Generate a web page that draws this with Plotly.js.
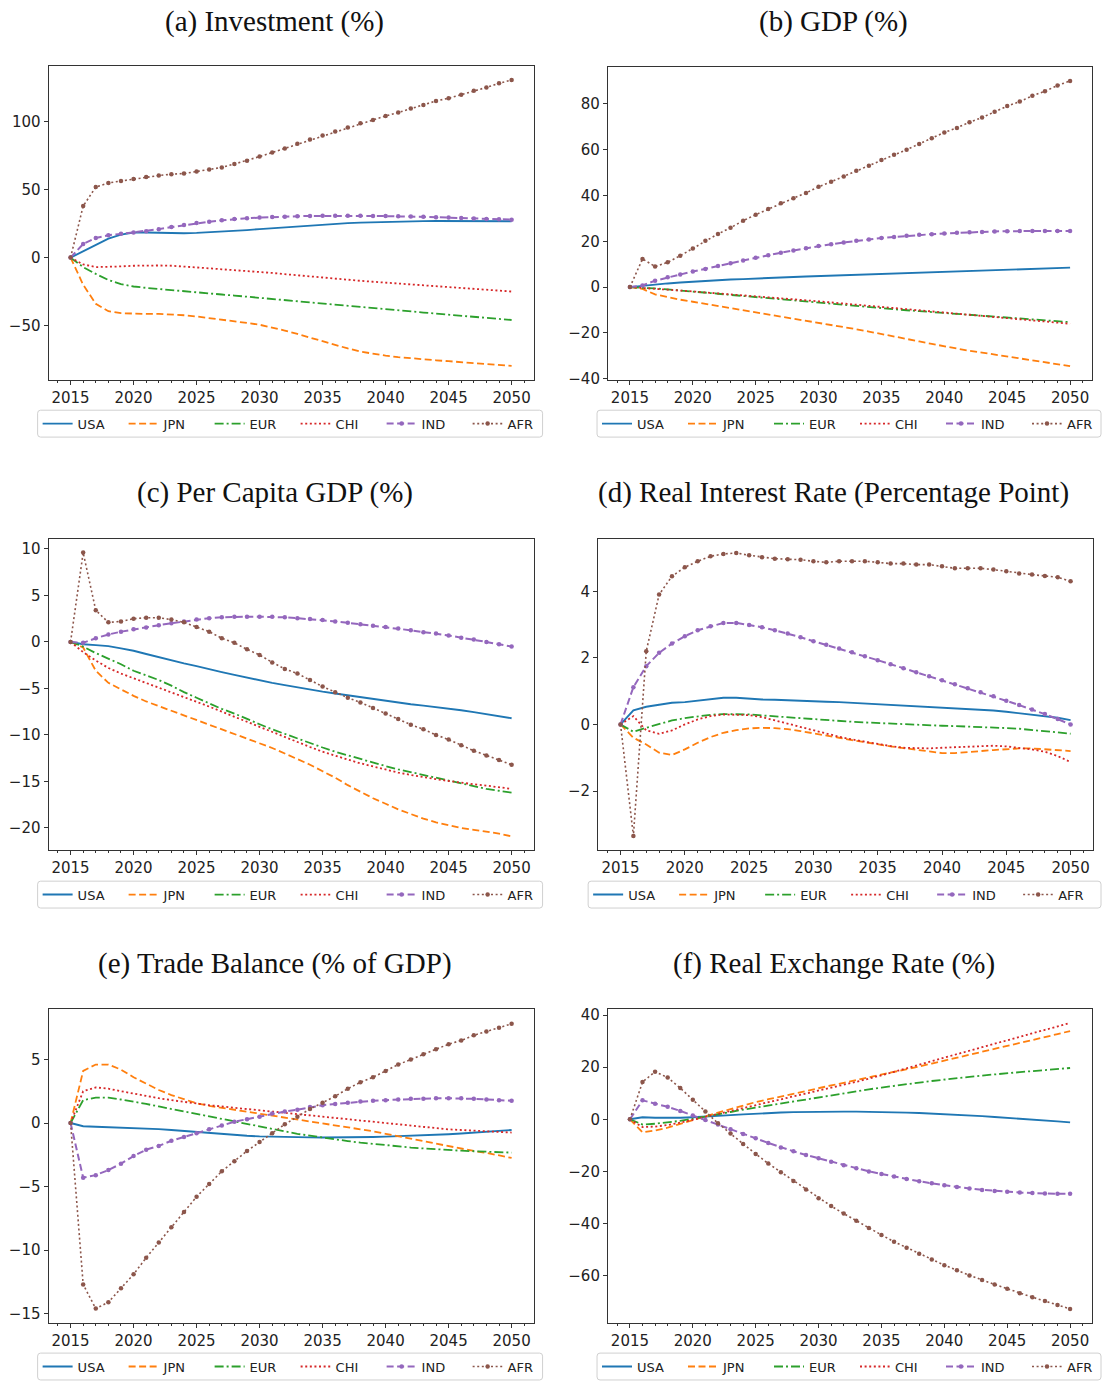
<!DOCTYPE html>
<html><head><meta charset="utf-8">
<script src="https://cdn.plot.ly/plotly-3.0.1.min.js"></script>
<style>html,body{margin:0;padding:0;background:#fff}#chart{width:1113px;height:1382px}</style>
</head><body><div id="chart"></div>
<script>
const years = [2015,2016,2017,2018,2019,2020,2021,2022,2023,2024,2025,2026,2027,2028,2029,2030,2031,2032,2033,2034,2035,2036,2037,2038,2039,2040,2041,2042,2043,2044,2045,2046,2047,2048,2049,2050];
const countries = ['USA','JPN','EUR','CHI','IND','AFR'];

// (a) Investment (%)
const invUSA = [0,4.5,9,14,17,18.5,18.5,18.2,18,18,18.2,18.6,19,19.6,20.3,21,21.7,22.4,23.1,23.8,24.4,24.9,25.4,25.8,26.1,26.4,26.6,26.8,26.9,27,27,27,27,27,26.9,26.8];
const invJPN = [0,-20,-34,-39.5,-41,-41.4,-41.5,-41.5,-41.8,-42.5,-43.4,-44.5,-45.7,-47,-48.2,-49.5,-51.5,-53.8,-56.3,-59,-61.8,-64.5,-67,-69.3,-71,-72.3,-73.4,-74.3,-75,-75.7,-76.4,-77.1,-77.8,-78.5,-79.2,-79.8];
const invEUR = [0,-7,-12,-16.5,-19.5,-21.3,-22.3,-23.2,-24,-24.8,-25.6,-26.4,-27.2,-28,-28.8,-29.7,-30.5,-31.4,-32.3,-33.2,-34,-34.9,-35.7,-36.5,-37.3,-38.1,-38.9,-39.7,-40.5,-41.3,-42.1,-42.9,-43.7,-44.5,-45.3,-46];
const invCHI = [0,-5,-7,-7,-6.5,-6,-5.8,-5.8,-6,-6.5,-7.2,-7.9,-8.6,-9.2,-9.8,-10.5,-11.3,-12.2,-13.1,-14,-14.8,-15.6,-16.4,-17.1,-17.8,-18.5,-19.1,-19.7,-20.3,-20.9,-21.5,-22.2,-22.9,-23.6,-24.3,-25];
const invIND = [0,10,14.5,16.5,17.5,18.5,19.5,21,22.5,24,25.5,26.5,27.5,28.5,29,29.5,30,30.2,30.5,30.7,30.8,30.8,30.8,30.8,30.7,30.6,30.5,30.3,30.1,29.8,29.5,29.2,28.8,28.5,28.2,28];
const invAFR = [0,38,52,55,56.5,58,59.5,60.5,61.5,62,63.5,65,66.5,69,71.5,74.5,77.5,80.5,84,87,90,93,96,99,101.5,104.5,107,110,112.5,115.5,117.5,120,123,125.5,128.5,131];

// (b) GDP (%)
const gdpUSA = [0,0.6,1.1,1.6,2.0,2.4,2.7,3.0,3.3,3.5,3.8,4.0,4.2,4.4,4.6,4.8,5.0,5.2,5.4,5.6,5.8,6.0,6.2,6.4,6.6,6.8,7.0,7.2,7.4,7.6,7.8,8.0,8.1,8.3,8.4,8.5];
const gdpJPN = [0,-0.8,-3.2,-4.5,-5.5,-6.4,-7.3,-8.2,-9.1,-10,-11,-11.9,-12.8,-13.7,-14.6,-15.6,-16.5,-17.5,-18.4,-19.4,-20.4,-21.5,-22.6,-23.7,-24.8,-25.9,-26.9,-27.8,-28.6,-29.4,-30.2,-31,-31.8,-32.6,-33.5,-34.5];
const gdpEUR = [0,-0.2,-0.6,-1,-1.4,-1.9,-2.4,-2.9,-3.4,-3.9,-4.4,-4.9,-5.4,-5.9,-6.4,-6.9,-7.4,-7.9,-8.3,-8.8,-9.2,-9.7,-10.1,-10.5,-10.9,-11.3,-11.7,-12.1,-12.5,-12.9,-13.3,-13.7,-14.1,-14.5,-14.9,-15.3];
const gdpCHI = [0,-0.3,-0.7,-1.1,-1.5,-1.9,-2.3,-2.7,-3.1,-3.5,-4,-4.4,-4.9,-5.3,-5.8,-6.2,-6.7,-7.2,-7.7,-8.2,-8.7,-9.2,-9.7,-10.2,-10.7,-11.1,-11.6,-12,-12.5,-13,-13.5,-14,-14.5,-15,-15.5,-16];
const gdpIND = [0,0.7,2.8,4.3,5.5,6.8,7.9,9.2,10.4,11.6,12.8,13.9,15,16,17,17.9,18.7,19.5,20.2,20.8,21.4,21.9,22.4,22.8,23.1,23.4,23.7,23.9,24.1,24.3,24.4,24.5,24.5,24.5,24.5,24.5];
const gdpAFR = [0,12.3,9,10.8,13.7,16.9,20.2,23.2,25.9,29,31.6,34.1,36.6,38.8,41.1,43.8,46,48.3,50.8,53,55.5,57.8,60,62.5,65,67.5,69.5,72,74,76.5,79,81,83.5,85.5,88,90];

// (c) Per Capita GDP (%)
const pcUSA = [0,-0.25,-0.35,-0.45,-0.7,-0.95,-1.3,-1.65,-2.0,-2.3,-2.6,-2.95,-3.25,-3.55,-3.85,-4.1,-4.4,-4.65,-4.9,-5.15,-5.35,-5.55,-5.75,-5.95,-6.15,-6.35,-6.5,-6.7,-6.85,-7.0,-7.2,-7.35,-7.55,-7.75,-7.95,-8.2];
const pcJPN = [0,-0.6,-3.1,-4.4,-5.1,-5.8,-6.4,-6.9,-7.4,-7.9,-8.4,-8.9,-9.4,-9.9,-10.4,-10.9,-11.4,-12.0,-12.6,-13.2,-13.9,-14.6,-15.4,-16.1,-16.8,-17.4,-18.0,-18.5,-19.0,-19.4,-19.7,-20.0,-20.2,-20.4,-20.6,-20.9];
const pcEUR = [0,-0.5,-1.2,-1.8,-2.4,-3.1,-3.6,-4.1,-4.7,-5.4,-6.0,-6.6,-7.2,-7.7,-8.3,-8.85,-9.4,-9.9,-10.4,-10.9,-11.35,-11.8,-12.2,-12.6,-13.0,-13.35,-13.7,-14.0,-14.3,-14.6,-14.95,-15.25,-15.5,-15.8,-16.0,-16.2];
const pcCHI = [0,-1.1,-2.0,-2.8,-3.4,-3.9,-4.4,-4.9,-5.4,-5.9,-6.4,-6.95,-7.5,-8.05,-8.6,-9.15,-9.7,-10.25,-10.8,-11.3,-11.8,-12.25,-12.65,-13.05,-13.4,-13.75,-14.05,-14.3,-14.55,-14.75,-14.95,-15.15,-15.3,-15.45,-15.6,-15.8];
const pcIND = [0,-0.1,0.4,0.8,1.1,1.35,1.55,1.8,2.0,2.2,2.4,2.55,2.65,2.7,2.7,2.7,2.7,2.65,2.55,2.45,2.35,2.2,2.05,1.9,1.75,1.6,1.45,1.25,1.05,0.9,0.7,0.45,0.25,0.0,-0.25,-0.5];
const pcAFR = [0,9.6,3.4,2.1,2.2,2.5,2.6,2.6,2.4,2.1,1.6,1.1,0.4,-0.1,-0.8,-1.4,-2.2,-2.9,-3.4,-4.1,-4.8,-5.4,-6.0,-6.5,-7.1,-7.7,-8.3,-8.9,-9.4,-10.0,-10.5,-11.1,-11.7,-12.2,-12.7,-13.2];

// (d) Real Interest Rate (Percentage Point)
const irUSA = [0,0.42,0.53,0.6,0.65,0.67,0.71,0.76,0.8,0.8,0.77,0.75,0.74,0.72,0.71,0.69,0.68,0.67,0.65,0.63,0.61,0.59,0.57,0.55,0.52,0.49,0.47,0.47,0.45,0.42,0.38,0.34,0.3,0.25,0.2,0.13];
const irJPN = [0,-0.4,-0.6,-0.85,-0.92,-0.75,-0.55,-0.38,-0.25,-0.17,-0.12,-0.1,-0.11,-0.14,-0.2,-0.26,-0.33,-0.4,-0.47,-0.54,-0.6,-0.66,-0.71,-0.76,-0.82,-0.86,-0.86,-0.84,-0.8,-0.77,-0.74,-0.72,-0.72,-0.74,-0.77,-0.8];
const irEUR = [0,-0.22,-0.1,0.02,0.12,0.19,0.25,0.29,0.31,0.31,0.3,0.27,0.24,0.21,0.18,0.15,0.12,0.1,0.08,0.06,0.04,0.03,0.02,0.0,-0.02,-0.04,-0.05,-0.06,-0.07,-0.09,-0.11,-0.13,-0.16,-0.2,-0.24,-0.28];
const irCHI = [0,0.25,-0.18,-0.28,-0.18,0.0,0.15,0.25,0.3,0.3,0.28,0.22,0.12,0.02,-0.08,-0.18,-0.28,-0.37,-0.45,-0.52,-0.59,-0.65,-0.7,-0.72,-0.72,-0.7,-0.68,-0.66,-0.64,-0.64,-0.66,-0.7,-0.75,-0.82,-0.95,-1.13];
const irIND = [0,1.12,1.75,2.15,2.43,2.65,2.83,2.95,3.05,3.05,2.99,2.92,2.83,2.73,2.62,2.5,2.39,2.28,2.17,2.05,1.93,1.81,1.69,1.57,1.45,1.33,1.21,1.09,0.97,0.85,0.71,0.58,0.45,0.31,0.16,0.0];
const irAFR = [0,-3.35,2.2,3.9,4.45,4.72,4.9,5.05,5.12,5.15,5.08,5.02,4.98,4.96,4.95,4.9,4.87,4.9,4.9,4.9,4.87,4.83,4.83,4.8,4.8,4.75,4.69,4.69,4.69,4.65,4.6,4.53,4.5,4.46,4.42,4.3];

// (e) Trade Balance (% of GDP)
const tbUSA = [0,-0.25,-0.3,-0.33,-0.35,-0.38,-0.42,-0.48,-0.55,-0.63,-0.72,-0.8,-0.88,-0.95,-1.0,-1.05,-1.08,-1.1,-1.12,-1.13,-1.14,-1.14,-1.13,-1.12,-1.1,-1.07,-1.04,-1.0,-0.96,-0.92,-0.88,-0.83,-0.77,-0.72,-0.65,-0.55];
const tbJPN = [0,4.1,4.6,4.6,4.2,3.6,3.1,2.6,2.2,1.85,1.55,1.35,1.2,1.05,0.9,0.75,0.55,0.4,0.25,0.1,0.0,-0.15,-0.3,-0.45,-0.65,-0.85,-1.05,-1.25,-1.45,-1.65,-1.85,-2.05,-2.2,-2.35,-2.55,-2.75];
const tbEUR = [0,1.8,2.0,2.0,1.85,1.7,1.5,1.3,1.1,0.9,0.7,0.5,0.3,0.1,-0.1,-0.3,-0.5,-0.7,-0.85,-1.0,-1.15,-1.3,-1.42,-1.54,-1.65,-1.75,-1.85,-1.93,-2.0,-2.07,-2.13,-2.18,-2.22,-2.26,-2.3,-2.33];
const tbCHI = [0,2.5,2.8,2.7,2.5,2.3,2.1,1.95,1.8,1.65,1.5,1.4,1.3,1.2,1.1,1.0,0.9,0.8,0.7,0.6,0.5,0.4,0.3,0.2,0.1,0.0,-0.1,-0.2,-0.3,-0.4,-0.5,-0.55,-0.6,-0.65,-0.7,-0.75];
const tbIND = [0,-4.3,-4.1,-3.7,-3.2,-2.6,-2.1,-1.8,-1.4,-1.1,-0.8,-0.5,-0.2,0.1,0.3,0.5,0.75,0.9,1.05,1.25,1.4,1.5,1.6,1.7,1.75,1.8,1.85,1.9,1.9,1.95,1.95,1.95,1.9,1.85,1.8,1.75];
const tbAFR = [0,-12.7,-14.6,-14.1,-13.0,-11.9,-10.6,-9.4,-8.2,-7.0,-5.8,-4.8,-3.8,-3.0,-2.2,-1.5,-0.8,-0.1,0.5,1.1,1.6,2.1,2.7,3.2,3.6,4.1,4.6,5.0,5.4,5.8,6.2,6.5,6.9,7.2,7.5,7.8];

// (f) Real Exchange Rate (%)
const rerUSA = [0,0.8,0.6,0.5,0.6,0.8,1.0,1.3,1.6,1.9,2.2,2.4,2.6,2.75,2.85,2.9,2.95,2.95,2.95,2.9,2.8,2.7,2.55,2.4,2.2,2.0,1.75,1.5,1.2,0.9,0.6,0.3,0.0,-0.4,-0.8,-1.2];
const rerJPN = [0,-5,-4.3,-3.2,-1.8,-0.3,1.2,2.6,3.9,5.3,6.6,7.7,8.8,9.9,11,12,13,14,15,16,17,18.1,19.2,20.3,21.4,22.5,23.6,24.7,25.8,26.9,28,29.2,30.4,31.5,32.7,33.9];
const rerEUR = [0,-2,-1.7,-1.2,-0.6,0.2,1.0,1.9,2.8,3.7,4.5,5.3,6.1,6.9,7.7,8.5,9.3,10.1,10.8,11.5,12.2,12.9,13.5,14.1,14.7,15.3,15.8,16.3,16.8,17.3,17.7,18.1,18.5,18.9,19.3,19.7];
const rerCHI = [0,-3,-2.8,-2.2,-1.3,-0.2,1.0,2.2,3.4,4.5,5.6,6.7,7.8,8.9,10,11.1,12.2,13.3,14.4,15.6,16.8,18.2,19.6,21,22.4,23.8,25.1,26.4,27.7,29,30.3,31.6,32.9,34.2,35.6,37];
const rerIND = [0,7.3,6,4.8,3.2,1.5,-0.3,-2,-3.8,-5.6,-7.3,-9.1,-10.8,-12.3,-13.7,-15,-16.3,-17.6,-18.8,-20,-21,-22,-22.9,-23.8,-24.6,-25.3,-26,-26.6,-27.1,-27.5,-27.8,-28.1,-28.3,-28.5,-28.6,-28.6];
const rerAFR = [0,14.3,18.3,16,12,7.5,3,-1.5,-5.5,-9.5,-13.3,-17,-20.3,-23.7,-27,-30.3,-33.3,-36.2,-39,-41.7,-44.4,-47,-49.3,-51.6,-53.8,-56,-58,-60,-61.7,-63.4,-65.1,-66.8,-68.3,-69.8,-71.3,-72.8];

const titles = ['(a) Investment (%)','(b) GDP (%)','(c) Per Capita GDP (%)','(d) Real Interest Rate (Percentage Point)','(e) Trade Balance (% of GDP)','(f) Real Exchange Rate (%)'];
const yTickStep = [50,20,5,2,5,20];

const panelSeries = [
  [invUSA,invJPN,invEUR,invCHI,invIND,invAFR],
  [gdpUSA,gdpJPN,gdpEUR,gdpCHI,gdpIND,gdpAFR],
  [pcUSA,pcJPN,pcEUR,pcCHI,pcIND,pcAFR],
  [irUSA,irJPN,irEUR,irCHI,irIND,irAFR],
  [tbUSA,tbJPN,tbEUR,tbCHI,tbIND,tbAFR],
  [rerUSA,rerJPN,rerEUR,rerCHI,rerIND,rerAFR]
];

// ---- geometry (pixels of the 1113x1382 page) ----
const W = 1113, H = 1382;
const geo = [
  {x0:49,  x1:539,  y0:66,  y1:382,  yr:[-90.5,141.5], bx0:38,  bx1:548,  by0:412,  by1:439,  tx:277, ty:22},
  {x0:614, x1:1103, y0:67,  y1:382,  yr:[-40.7,96.2],  bx0:603, bx1:1112, by0:412,  by1:439,  tx:842, ty:22},
  {x0:49,  x1:539,  y0:541, y1:854,  yr:[-22.4,11.1],  bx0:38,  bx1:548,  by0:885,  by1:912,  tx:278, ty:495},
  {x0:604, x1:1104, y0:541, y1:854,  yr:[-3.78,5.58],  bx0:594, bx1:1112, by0:885,  by1:912,  tx:842, ty:495},
  {x0:49,  x1:539,  y0:1013,y1:1329, yr:[-15.75,9.0], bx0:38,  bx1:548,  by0:1359, by1:1386, tx:278, ty:968},
  {x0:614, x1:1103, y0:1013,y1:1329, yr:[-78.3,42.5],  bx0:603, bx1:1112, by0:1359, by1:1386, tx:842, ty:968}
];

const styles = [
  {color:'#1f77b4', dash:'solid', width:1.9, marker:false},
  {color:'#ff7f0e', dash:'7px,3.5px', width:1.8, marker:false},
  {color:'#2ca02c', dash:'9px,3px,2px,3px', width:1.8, marker:false},
  {color:'#d62728', dash:'2px,2.6px', width:1.8, marker:false},
  {color:'#9467bd', dash:'7px,3.5px', width:2.0, marker:true},
  {color:'#8c564b', dash:'2px,2.6px', width:1.6, marker:true}
];

function roundRect(x0, y0, x1, y1, r) {
  const X = v => (v / W).toFixed(5), Y = v => (1 - v / H).toFixed(5);
  return 'M' + X(x0 + r) + ',' + Y(y0) + ' L' + X(x1 - r) + ',' + Y(y0) +
    ' Q' + X(x1) + ',' + Y(y0) + ' ' + X(x1) + ',' + Y(y0 + r) +
    ' L' + X(x1) + ',' + Y(y1 - r) +
    ' Q' + X(x1) + ',' + Y(y1) + ' ' + X(x1 - r) + ',' + Y(y1) +
    ' L' + X(x0 + r) + ',' + Y(y1) +
    ' Q' + X(x0) + ',' + Y(y1) + ' ' + X(x0) + ',' + Y(y1 - r) +
    ' L' + X(x0) + ',' + Y(y0 + r) +
    ' Q' + X(x0) + ',' + Y(y0) + ' ' + X(x0 + r) + ',' + Y(y0) + ' Z';
}

const traces = [];
const layout = {
  width: W, height: H,
  margin: {l:0, r:0, t:0, b:0},
  paper_bgcolor: '#fff', plot_bgcolor: '#fff',
  showlegend: true,
  annotations: [],
  shapes: []
};

for (let p = 0; p < 6; p++) {
  const g = geo[p];
  const sfx = p === 0 ? '' : String(p + 1);
  const legendId = 'legend' + sfx;
  for (let s = 0; s < 6; s++) {
    const st = styles[s];
    traces.push({
      type: 'scatter',
      x: years, y: panelSeries[p][s],
      name: countries[s],
      xaxis: 'x' + sfx, yaxis: 'y' + sfx,
      legend: legendId,
      mode: st.marker ? 'lines+markers' : 'lines',
      line: {color: st.color, dash: st.dash, width: st.width},
      marker: {color: st.color, size: 4.5},
      hoverinfo: 'skip'
    });
  }
  const axCommon = {
    showline: true, mirror: true, linecolor: '#333', linewidth: 1,
    ticks: 'outside', ticklen: 4, tickcolor: '#333', tickwidth: 1,
    showgrid: false, zeroline: false,
    tickfont: {family: 'DejaVu Sans', size: 15, color: '#222'}
  };
  layout['xaxis' + sfx] = Object.assign({}, axCommon, {
    domain: [g.x0 / W, g.x1 / W],
    range: [2013.25, 2051.75],
    tick0: 2015, dtick: 5,
    anchor: 'y' + sfx,
    minor: {dtick: 1, tick0: 2015, ticks: 'outside', ticklen: 2, tickcolor: '#333', showgrid: false}
  });
  layout['yaxis' + sfx] = Object.assign({}, axCommon, {
    domain: [1 - g.y1 / H, 1 - g.y0 / H],
    range: g.yr,
    tick0: 0, dtick: yTickStep[p],
    anchor: 'x' + sfx
  });
  layout[legendId] = {
    orientation: 'h',
    x: g.bx0 / W, y: 1 - ((g.by0 + g.by1) / 2) / H,
    xanchor: 'left', yanchor: 'middle',
    bgcolor: 'rgba(0,0,0,0)', borderwidth: 0,
    font: {family: 'DejaVu Sans', size: 13, color: '#222'},
    entrywidth: 41, entrywidthmode: 'pixels',
    itemwidth: 30, tracegroupgap: 0
  };
  layout.shapes.push({
    type: 'path', xref: 'paper', yref: 'paper', layer: 'below',
    path: roundRect(g.bx0, g.by0, g.bx1, g.by1, 3),
    line: {color: '#d0d0d0', width: 1}, fillcolor: '#fff'
  });
  layout.annotations.push({
    xref: 'paper', yref: 'paper',
    x: g.tx / W, y: 1 - g.ty / H,
    xanchor: 'center', yanchor: 'middle',
    text: titles[p], showarrow: false,
    font: {family: 'Liberation Serif', size: 29, color: '#111'}
  });
}

Plotly.newPlot('chart', traces, layout, {staticPlot: true, displayModeBar: false});
</script>
</body></html>
